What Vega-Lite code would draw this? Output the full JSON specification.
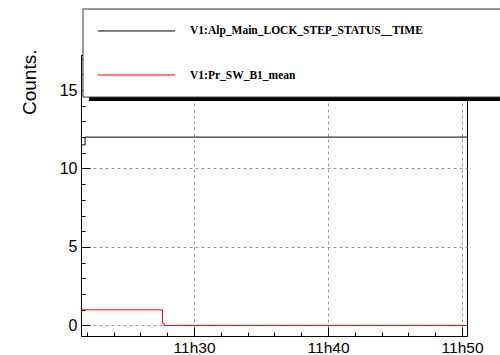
{
  "$schema": "https://vega.github.io/schema/vega-lite/v6.json",
  "width": 386,
  "height": 281,
  "autosize": {"type": "none"},
  "padding": {"left": 81, "top": 55, "right": 33, "bottom": 19},
  "background": "white",
  "config": {
    "view": {"stroke": "black", "strokeWidth": 1},
    "font": "Liberation Sans",
    "axis": {"labelOverlap": false, "labelFlush": false}
  },
  "resolve": {"axis": {"x": "independent", "y": "independent"}},
  "datasets": {
    "series": [
      {"series": "V1:Alp_Main_LOCK_STEP_STATUS__TIME", "t": "2024-01-01T11:21:34Z", "v": 18},
      {"series": "V1:Alp_Main_LOCK_STEP_STATUS__TIME", "t": "2024-01-01T11:21:35Z", "v": 11.5},
      {"series": "V1:Alp_Main_LOCK_STEP_STATUS__TIME", "t": "2024-01-01T11:21:52Z", "v": 12},
      {"series": "V1:Alp_Main_LOCK_STEP_STATUS__TIME", "t": "2024-01-01T11:50:22Z", "v": 12},
      {"series": "V1:Pr_SW_B1_mean", "t": "2024-01-01T11:21:34Z", "v": 1},
      {"series": "V1:Pr_SW_B1_mean", "t": "2024-01-01T11:27:39Z", "v": 0.15},
      {"series": "V1:Pr_SW_B1_mean", "t": "2024-01-01T11:27:46Z", "v": 0},
      {"series": "V1:Pr_SW_B1_mean", "t": "2024-01-01T11:50:22Z", "v": 0}
    ]
  },
  "layer": [
    {
      "data": {"name": "series"},
      "mark": {"type": "line", "interpolate": "step-after", "strokeWidth": 1, "clip": true},
      "encoding": {
        "x": {
          "field": "t",
          "type": "temporal",
          "scale": {
            "type": "utc",
            "domain": [
              {"year": 2024, "month": 1, "date": 1, "hours": 11, "minutes": 21, "seconds": 34, "utc": true},
              {"year": 2024, "month": 1, "date": 1, "hours": 11, "minutes": 50, "seconds": 22, "utc": true}
            ]
          },
          "axis": {
            "orient": "bottom",
            "title": null,
            "values": [
              {"year": 2024, "month": 1, "date": 1, "hours": 11, "minutes": 30, "utc": true},
              {"year": 2024, "month": 1, "date": 1, "hours": 11, "minutes": 40, "utc": true},
              {"year": 2024, "month": 1, "date": 1, "hours": 11, "minutes": 50, "utc": true}
            ],
            "format": "%Hh%M",
            "labelFontSize": 15.5,
            "labelColor": "black",
            "labelPadding": 13,
            "domainColor": "black",
            "tickColor": "black",
            "tickSize": -9,
            "grid": true,
            "gridColor": "#999999",
            "gridDash": [3, 3]
          }
        },
        "y": {
          "field": "v",
          "type": "quantitative",
          "scale": {"domain": [-0.67, 17.23], "nice": false, "zero": false},
          "axis": {
            "orient": "left",
            "title": "Counts.",
            "titleFontSize": 19,
            "titleFontWeight": "normal",
            "titleColor": "black",
            "titleAnchor": "end",
            "titleAlign": "right",
            "titleBaseline": "alphabetic",
            "titleX": -46,
            "titleY": -6,
            "values": [0, 5, 10, 15],
            "labelFontSize": 16,
            "labelColor": "black",
            "labelPadding": 13,
            "domainColor": "black",
            "tickColor": "black",
            "tickSize": -9,
            "grid": true,
            "gridColor": "#999999",
            "gridDash": [3, 3]
          }
        },
        "color": {
          "field": "series",
          "type": "nominal",
          "scale": {
            "domain": ["V1:Alp_Main_LOCK_STEP_STATUS__TIME", "V1:Pr_SW_B1_mean"],
            "range": ["#000000", "#ff0000"]
          },
          "legend": null
        }
      }
    },
    {
      "data": {"values": [{}]},
      "mark": {"type": "rect", "fill": "black", "clip": false},
      "encoding": {
        "x": {
          "datum": {"year": 2024, "month": 1, "date": 1, "hours": 11, "minutes": 22, "seconds": 10, "utc": true},
          "type": "temporal",
          "axis": {
            "orient": "bottom",
            "title": null,
            "labels": false,
            "grid": false,
            "domain": false,
            "tickColor": "black",
            "tickSize": -4,
            "values": [
              {"year": 2024, "month": 1, "date": 1, "hours": 11, "minutes": 22, "utc": true},
              {"year": 2024, "month": 1, "date": 1, "hours": 11, "minutes": 24, "utc": true},
              {"year": 2024, "month": 1, "date": 1, "hours": 11, "minutes": 26, "utc": true},
              {"year": 2024, "month": 1, "date": 1, "hours": 11, "minutes": 28, "utc": true},
              {"year": 2024, "month": 1, "date": 1, "hours": 11, "minutes": 32, "utc": true},
              {"year": 2024, "month": 1, "date": 1, "hours": 11, "minutes": 34, "utc": true},
              {"year": 2024, "month": 1, "date": 1, "hours": 11, "minutes": 36, "utc": true},
              {"year": 2024, "month": 1, "date": 1, "hours": 11, "minutes": 38, "utc": true},
              {"year": 2024, "month": 1, "date": 1, "hours": 11, "minutes": 42, "utc": true},
              {"year": 2024, "month": 1, "date": 1, "hours": 11, "minutes": 44, "utc": true},
              {"year": 2024, "month": 1, "date": 1, "hours": 11, "minutes": 46, "utc": true},
              {"year": 2024, "month": 1, "date": 1, "hours": 11, "minutes": 48, "utc": true}
            ]
          }
        },
        "x2": {"datum": {"year": 2024, "month": 1, "date": 1, "hours": 11, "minutes": 54, "seconds": 0, "utc": true}},
        "y": {
          "datum": 19.9,
          "type": "quantitative",
          "axis": {
            "orient": "left",
            "title": null,
            "labels": false,
            "grid": false,
            "domain": false,
            "tickColor": "black",
            "tickSize": -4,
            "values": [1, 2, 3, 4, 6, 7, 8, 9, 11, 12, 13, 14, 16, 17]
          }
        },
        "y2": {"datum": 14.3}
      }
    },
    {
      "data": {"values": [{}]},
      "mark": {"type": "rect", "fill": "white", "stroke": "#333333", "strokeWidth": 1, "clip": false},
      "encoding": {
        "x": {"datum": {"year": 2024, "month": 1, "date": 1, "hours": 11, "minutes": 21, "seconds": 43, "utc": true}, "type": "temporal", "axis": null},
        "x2": {"datum": {"year": 2024, "month": 1, "date": 1, "hours": 11, "minutes": 54, "seconds": 0, "utc": true}},
        "y": {"datum": 20.16, "type": "quantitative", "axis": null},
        "y2": {"datum": 14.55}
      }
    },
    {
      "data": {"values": [{"series": "V1:Alp_Main_LOCK_STEP_STATUS__TIME"}]},
      "layer": [
        {
          "mark": {"type": "rule", "strokeWidth": 1, "clip": false},
          "encoding": {
            "x": {"datum": {"year": 2024, "month": 1, "date": 1, "hours": 11, "minutes": 22, "seconds": 50, "utc": true}, "type": "temporal", "axis": null},
            "x2": {"datum": {"year": 2024, "month": 1, "date": 1, "hours": 11, "minutes": 28, "seconds": 35, "utc": true}},
            "y": {"datum": 18.76, "type": "quantitative", "axis": null},
            "color": {"field": "series", "type": "nominal", "legend": null}
          }
        },
        {
          "mark": {"type": "text", "align": "left", "baseline": "alphabetic", "font": "Liberation Serif", "fontWeight": "bold", "fontSize": 11.5, "color": "black", "clip": false},
          "encoding": {
            "x": {"datum": {"year": 2024, "month": 1, "date": 1, "hours": 11, "minutes": 29, "seconds": 42, "utc": true}, "type": "temporal", "axis": null},
            "y": {"datum": 18.54, "type": "quantitative", "axis": null},
            "text": {"field": "series"}
          }
        }
      ]
    },
    {
      "data": {"values": [{"series": "V1:Pr_SW_B1_mean"}]},
      "layer": [
        {
          "mark": {"type": "rule", "strokeWidth": 1, "clip": false},
          "encoding": {
            "x": {"datum": {"year": 2024, "month": 1, "date": 1, "hours": 11, "minutes": 22, "seconds": 50, "utc": true}, "type": "temporal", "axis": null},
            "x2": {"datum": {"year": 2024, "month": 1, "date": 1, "hours": 11, "minutes": 28, "seconds": 35, "utc": true}},
            "y": {"datum": 15.96, "type": "quantitative", "axis": null},
            "color": {"field": "series", "type": "nominal", "legend": null}
          }
        },
        {
          "mark": {"type": "text", "align": "left", "baseline": "alphabetic", "font": "Liberation Serif", "fontWeight": "bold", "fontSize": 11.5, "color": "black", "clip": false},
          "encoding": {
            "x": {"datum": {"year": 2024, "month": 1, "date": 1, "hours": 11, "minutes": 29, "seconds": 42, "utc": true}, "type": "temporal", "axis": null},
            "y": {"datum": 15.73, "type": "quantitative", "axis": null},
            "text": {"field": "series"}
          }
        }
      ]
    }
  ]
}
